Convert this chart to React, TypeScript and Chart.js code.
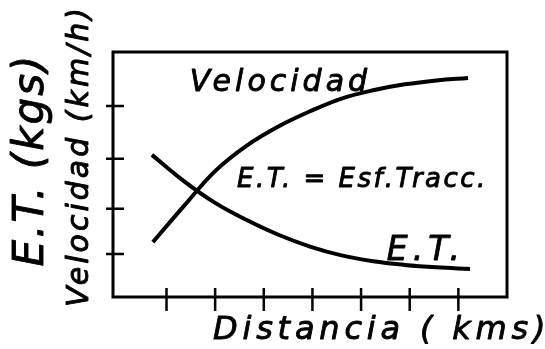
import React, { useEffect, useRef } from "react";
import { Chart, registerables } from "chart.js";

Chart.register(...registerables);

// Distance (arbitrary km units) and values (arbitrary units)
const velX = [0.72, 1.36, 2.0, 2.65, 3.3, 3.95, 4.6, 5.25, 5.9, 6.55, 7.2];
const velY = [1.12, 1.86, 2.57, 3.09, 3.48, 3.79, 4.05, 4.22, 4.34, 4.42, 4.47];
const etX = [0.7, 1.35, 2.0, 2.65, 3.3, 3.95, 4.6, 5.25, 5.9, 6.55, 7.24];
const etY = [2.9, 2.37, 1.92, 1.57, 1.27, 1.03, 0.85, 0.73, 0.655, 0.605, 0.57];

const xTicks = [1, 2, 3, 4, 5, 6, 7];
const yTicks = [0.88, 1.8, 2.82, 3.9];
const xRange = [-0.1, 8];
const yRange = [0, 5];

const xTitle = "Distancia ( kms)";
const yTitleA = "E.T. (kgs)";
const yTitleB = "Velocidad (km/h)";
const velLabel = "Velocidad";
const defLabel = "E.T. = Esf.Tracc.";
const etLabel = "E.T.";
// label anchors in data units
const velLabelAt = [1.48, 4.2];
const defLabelAt = [2.45, 2.24];
const etLabelAt = [5.53, 0.755];

const FONT = '"DejaVu Sans", sans-serif';

function drawText(
  ctx: CanvasRenderingContext2D,
  text: string,
  x: number,
  y: number,
  size: number,
  spacing: number,
  rotate = 0,
  align: CanvasTextAlign = "left"
) {
  ctx.save();
  ctx.translate(x, y);
  if (rotate) ctx.rotate(rotate);
  ctx.font = `oblique ${size}px ${FONT}`;
  (ctx as any).letterSpacing = `${spacing}px`;
  ctx.textAlign = align;
  ctx.textBaseline = "alphabetic";
  ctx.fillStyle = "#000";
  ctx.strokeStyle = "#000";
  ctx.lineWidth = 0.9;
  ctx.lineJoin = "round";
  ctx.fillText(text, 0, 0);
  ctx.strokeText(text, 0, 0);
  ctx.restore();
}

const sketchPlugin = {
  id: "sketch",
  afterDatasetsDraw(chart: any) {
    const { ctx, chartArea } = chart;
    const { left, right, top, bottom } = chartArea;
    const xs = chart.scales.x;
    const ys = chart.scales.y;
    ctx.save();
    ctx.strokeStyle = "#000";
    ctx.lineWidth = 3;
    ctx.strokeRect(left, top, right - left, bottom - top);
    ctx.lineWidth = 2.5;
    ctx.beginPath();
    for (const t of yTicks) {
      const py = ys.getPixelForValue(t);
      ctx.moveTo(left - 7, py);
      ctx.lineTo(left + 11, py);
    }
    for (const t of xTicks) {
      const px = xs.getPixelForValue(t);
      ctx.moveTo(px, bottom - 9);
      ctx.lineTo(px, bottom + 14);
    }
    ctx.stroke();
    ctx.restore();

    drawText(ctx, velLabel, xs.getPixelForValue(velLabelAt[0]), ys.getPixelForValue(velLabelAt[1]), 30, 4);
    drawText(ctx, defLabel, xs.getPixelForValue(defLabelAt[0]), ys.getPixelForValue(defLabelAt[1]), 26, 2.5);
    drawText(ctx, etLabel, xs.getPixelForValue(etLabelAt[0]), ys.getPixelForValue(etLabelAt[1]), 33, 5);

    drawText(ctx, xTitle, left + 100, bottom + 42, 32, 4.8);
    drawText(ctx, yTitleA, left - 70, top + 108, 42, 2, -Math.PI / 2, "center");
    drawText(ctx, yTitleB, left - 25, top + 104, 30, 3, -Math.PI / 2, "center");
  },
};

export default function App() {
  const ref = useRef<HTMLCanvasElement | null>(null);
  useEffect(() => {
    if (!ref.current) return;
    const chart = new Chart(ref.current, {
      type: "line",
      data: {
        datasets: [
          {
            label: "Velocidad",
            data: velX.map((x, i) => ({ x, y: velY[i] })),
            borderColor: "#000",
            borderWidth: 4,
            pointRadius: 0,
            tension: 0.4,
            fill: false,
          },
          {
            label: "E.T.",
            data: etX.map((x, i) => ({ x, y: etY[i] })),
            borderColor: "#000",
            borderWidth: 4,
            pointRadius: 0,
            tension: 0.4,
            fill: false,
          },
        ],
      },
      options: {
        animation: false,
        responsive: false,
        layout: { padding: { left: 113, right: 38, top: 52, bottom: 52 } },
        plugins: { legend: { display: false }, tooltip: { enabled: false } },
        scales: {
          x: { type: "linear", display: false, min: xRange[0], max: xRange[1] },
          y: { type: "linear", display: false, min: yRange[0], max: yRange[1] },
        },
      },
      plugins: [sketchPlugin],
    });
    return () => chart.destroy();
  }, []);
  return (
    <div style={{ position: "fixed", left: 0, top: 0, width: 545, height: 349, background: "#fff" }}>
      <canvas ref={ref} width={545} height={349} style={{ display: "block" }} />
    </div>
  );
}
